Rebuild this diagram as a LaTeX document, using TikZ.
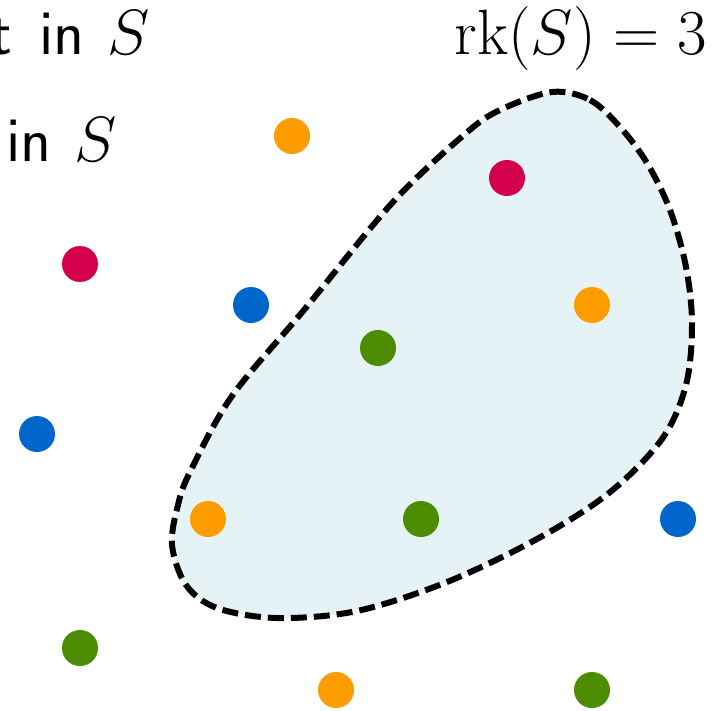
\RequirePackage{fix-cm}
\documentclass[tikz,border=0pt]{standalone}
\definecolor{cOrange}{HTML}{FF9C00}
\definecolor{cRed}{HTML}{D4004B}
\definecolor{cBlue}{HTML}{0066CC}
\definecolor{cGreen}{HTML}{4C8C00}
\definecolor{cFill}{HTML}{E5F3F7}
\tikzset{
  dot/.style={circle,inner sep=0pt,minimum size=36pt,fill=#1},
  lbl/.style={inner sep=0pt,font=\fontsize{64}{70}\selectfont},
}
\begin{document}
\begin{tikzpicture}[x=1pt,y=-1pt]
\useasboundingbox (0,0) rectangle (725,711);
\clip (0,0) rectangle (725,711);
\fill[white] (0,0) rectangle (725,711);
% blob
\draw[fill=cFill,line width=6pt,dash pattern=on 16pt off 7pt]
  plot[smooth cycle,tension=0.55] coordinates {
   (552,92) (590,100) (620,127) (647,163) (670,210) (686,267) (692,324)
   (686,385) (662,439) (609,493) (537,539) (447,582) (357,611) (277,618)
   (217,608) (186,585) (172,545) (178,505) (190,472) (232,396) (304,310)
   (393,202) (465,134) (500,110)};
% dots
\node[dot=cOrange] (o1) at (292,136) {};
\node[dot=cRed]    (r1) at (507,178) {};
\node[dot=cRed]    (r2) at (80,264) {};
\node[dot=cBlue]   (b1) at (251,305) {};
\node[dot=cOrange] (o2) at (592,305) {};
\node[dot=cGreen]  (g1) at (378,348) {};
\node[dot=cBlue]   (b2) at (37,434) {};
\node[dot=cOrange] (o3) at (208,519) {};
\node[dot=cGreen]  (g2) at (421,519) {};
\node[dot=cBlue]   (b3) at (678,519) {};
\node[dot=cGreen]  (g3) at (80,648) {};
\node[dot=cOrange] (o4) at (336,690) {};
\node[dot=cGreen]  (g4) at (592,690) {};
% labels
\node[lbl,anchor=base east] (t1) at (150,55) {\sffamily t\hspace{0.42em}in\hspace{0.36em}$S$};
\node[lbl,anchor=base east] (t2) at (117,162) {\sffamily in\hspace{0.36em}$S$};
\node[lbl,anchor=base east] (rk) at (707,55) {$\mathrm{rk}(S) = 3$};
\end{tikzpicture}
\end{document}
